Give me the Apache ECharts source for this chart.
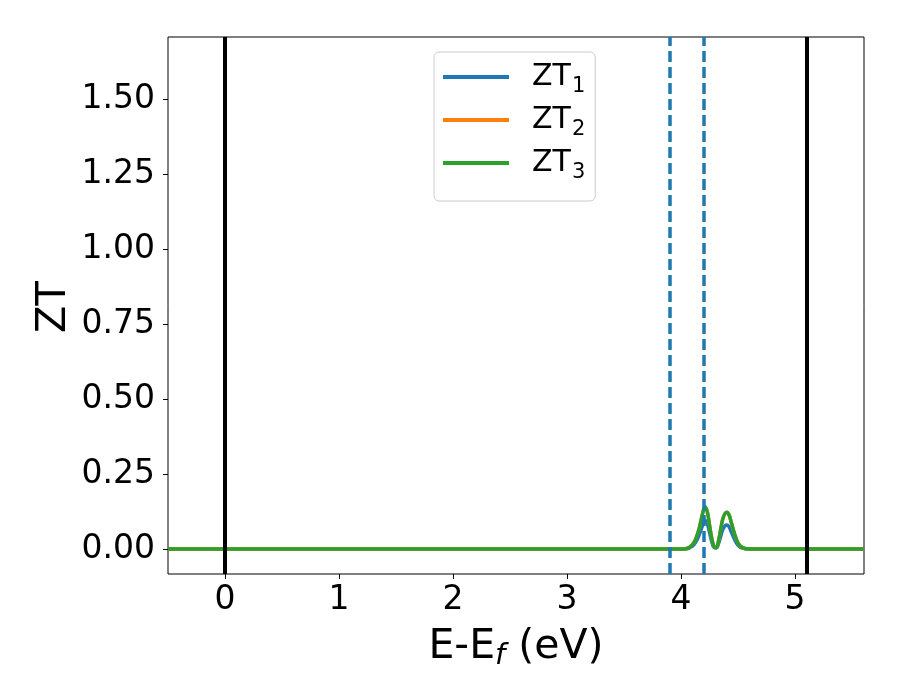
<!DOCTYPE html>
<html>
<head>
<meta charset="utf-8">
<script src="https://cdn.jsdelivr.net/npm/echarts@6/dist/echarts.min.js"></script>
<style>html,body{margin:0;padding:0;background:#fff}#c{width:900px;height:700px}</style>
</head>
<body>
<div id="c"></div>
<script>
// Energy sample points (eV)
const energy = [-0.5, 3.9, 4.0, 4.05, 4.10, 4.13, 4.16, 4.19, 4.21, 4.23, 4.25, 4.27, 4.29, 4.31, 4.33, 4.35, 4.37, 4.40, 4.42, 4.44, 4.47, 4.50, 4.54, 4.60, 4.7, 5.6];
const zt1 = [0, 0, 0, 0.001, 0.010, 0.024, 0.048, 0.080, 0.095, 0.085, 0.055, 0.024, 0.005, 0.004, 0.020, 0.045, 0.068, 0.080, 0.075, 0.058, 0.032, 0.013, 0.003, 0, 0, 0];
const zt2 = [0, 0, 0, 0.002, 0.015, 0.035, 0.070, 0.120, 0.140, 0.125, 0.080, 0.035, 0.008, 0.005, 0.030, 0.070, 0.105, 0.123, 0.115, 0.090, 0.050, 0.020, 0.005, 0, 0, 0];
const zt3 = [0, 0, 0, 0.002, 0.015, 0.035, 0.070, 0.120, 0.140, 0.125, 0.080, 0.035, 0.008, 0.005, 0.030, 0.070, 0.105, 0.123, 0.115, 0.090, 0.050, 0.020, 0.005, 0, 0, 0];
const seriesNames = ['ZT1', 'ZT2', 'ZT3'];
const seriesColors = ['#1f77b4', '#ff7f0e', '#2ca02c'];
const solidLines = [0, 5.1];
const dashedLines = [3.9, 4.2];
const xTicks = [0, 1, 2, 3, 4, 5];
const yTicks = [0, 0.25, 0.5, 0.75, 1.0, 1.25, 1.5];
const yTitle = 'ZT';

const font = 'DejaVu Sans';
const chart = echarts.init(document.getElementById('c'));
const mk = (ys) => energy.map((x, i) => [x, ys[i]]);
const lineSeries = [zt1, zt2, zt3].map((ys, i) => ({
  name: seriesNames[i], type: 'line', data: mk(ys), smooth: 0.4, showSymbol: false,
  lineStyle: { width: 3.5, color: seriesColors[i] }, itemStyle: { color: seriesColors[i] }, z: 3
}));
lineSeries.push({
  type: 'line', data: [], silent: true, z: 5,
  markLine: {
    silent: true, symbol: 'none', label: { show: false }, animation: false,
    data: solidLines.map(v => ({ xAxis: v, lineStyle: { color: '#000', width: 4, type: 'solid' } }))
      .concat(dashedLines.map(v => ({ xAxis: v, lineStyle: { color: '#1f77b4', width: 3.5, type: [11, 5] } })))
  }
});
chart.setOption({
  animation: false,
  textStyle: { fontFamily: font },
  grid: { left: 168, right: 36, top: 37, bottom: 126, show: true, borderColor: '#000', borderWidth: 1, backgroundColor: 'transparent' },
  graphic: [{
    type: 'text', x: 55, y: 307, rotation: Math.PI / 2,
    style: { text: yTitle, fontSize: 40, fontFamily: font, fill: '#000', align: 'center', verticalAlign: 'middle' }
  }],
  legend: {
    orient: 'vertical', left: 434, top: 52, padding: [10, 10, 18, 9],
    backgroundColor: '#fff', borderColor: '#ccc', borderWidth: 1, borderRadius: 5,
    itemWidth: 66, itemHeight: 4, itemGap: 8, itemTextGap: 24, icon: 'rect',
    data: seriesNames,
    formatter: n => '{a|ZT}{b|' + n.slice(2) + '}',
    textStyle: {
      rich: {
        a: { fontFamily: font, fontSize: 30, color: '#000', lineHeight: 40, verticalAlign: 'middle', padding: [0, 0, 0, 18] },
        b: { fontFamily: font, fontSize: 21, color: '#000', lineHeight: 40, verticalAlign: 'bottom', padding: [14, 0, 0, 1] }
      }
    }
  },
  xAxis: {
    type: 'value', min: -0.5, max: 5.605,
    splitLine: { show: false },
    axisLine: { show: false, onZero: false },
    axisTick: { show: true, length: 5, lineStyle: { color: '#000', width: 1 }, customValues: xTicks },
    axisLabel: { fontSize: 33, color: '#000', margin: 10, fontFamily: font, customValues: xTicks },
    name: 'E-E{i|f} (eV)', nameLocation: 'middle', nameGap: 50,
    nameTextStyle: {
      fontSize: 41, color: '#000', fontFamily: font,
      rich: { i: { fontSize: 29, fontStyle: 'italic', color: '#000', fontFamily: font, verticalAlign: 'bottom', padding: [18, 0, 0, 0] } }
    }
  },
  yAxis: {
    type: 'value', min: -0.083, max: 1.707,
    splitLine: { show: false },
    axisLine: { show: false, onZero: false },
    axisTick: { show: true, length: 5, lineStyle: { color: '#000', width: 1 }, customValues: yTicks },
    axisLabel: { fontSize: 33, color: '#000', margin: 13, fontFamily: font, customValues: yTicks, formatter: v => v.toFixed(2) }
  },
  series: lineSeries
});
</script>
</body>
</html>
